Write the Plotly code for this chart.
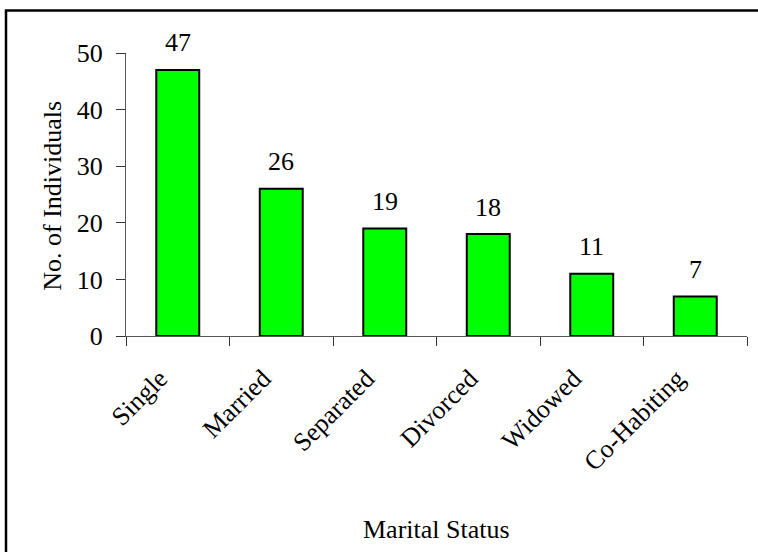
import plotly.graph_objects as go

categories = ["Single", "Married", "Separated", "Divorced", "Widowed", "Co-Habiting"]
counts = [47, 26, 19, 18, 11, 7]
y_ticks = [0, 10, 20, 30, 40, 50]

FONT = "Liberation Serif, Times New Roman, serif"
FS = 26

fig = go.Figure()
fig.add_trace(go.Bar(
    x=categories, y=counts,
    marker=dict(color="#00FF00", line=dict(color="black", width=2)),
    hoverinfo="skip",
))

for c, v in zip(categories, counts):
    fig.add_annotation(x=c, y=v, text=str(v), showarrow=False,
                       yanchor="middle", yshift=27,
                       font=dict(family=FONT, size=FS, color="black"))

L, R, T, B = 126, 747, 53, 336.5
W, H = 758, 552
pw, ph = R - L, B - T

# axis titles
fig.add_annotation(xref="paper", yref="paper", x=(436 - L) / pw, y=-(530 - B) / ph,
                   text="Marital Status", showarrow=False,
                   xanchor="center", yanchor="middle",
                   font=dict(family=FONT, size=FS, color="black"))
fig.add_annotation(xref="paper", yref="paper", x=-(L - 53) / pw, y=(B - 196) / ph,
                   text="No. of Individuals", showarrow=False, textangle=-90,
                   xanchor="center", yanchor="middle",
                   font=dict(family=FONT, size=FS, color="black"))

# outer border of chart area
fig.add_shape(type="rect", xref="paper", yref="paper",
              x0=(6 - L) / pw, x1=(W + 20 - L) / pw,
              y0=-(H + 20 - B) / ph, y1=1 + (T - 10.5) / ph,
              line=dict(color="black", width=2.5), layer="above")

fig.update_layout(
    width=W, height=H,
    margin=dict(l=L, r=W - R, t=T, b=H - B, autoexpand=False),
    paper_bgcolor="white", plot_bgcolor="white",
    bargap=0.585, showlegend=False,
    font=dict(family=FONT, size=FS, color="black"),
)
fig.update_xaxes(
    type="category", tickson="boundaries", ticks="outside", ticklen=9,
    tickcolor="#333", tickangle=-45, showline=True, linecolor="#555", linewidth=1,
    showgrid=False, zeroline=False, ticklabelstandoff=16, ticklabelshift=-18,
    tickfont=dict(family=FONT, size=FS, color="black"),
)
fig.update_yaxes(
    range=[0, 50], tickvals=y_ticks, ticks="outside", ticklen=9,
    tickcolor="#333", showline=True, linecolor="#555", linewidth=1,
    showgrid=False, zeroline=False, ticklabelstandoff=8,
    tickfont=dict(family=FONT, size=FS, color="black"),
)

fig.write_html("out.html", config={"displayModeBar": False},
               post_script="document.body.style.margin='0';")
